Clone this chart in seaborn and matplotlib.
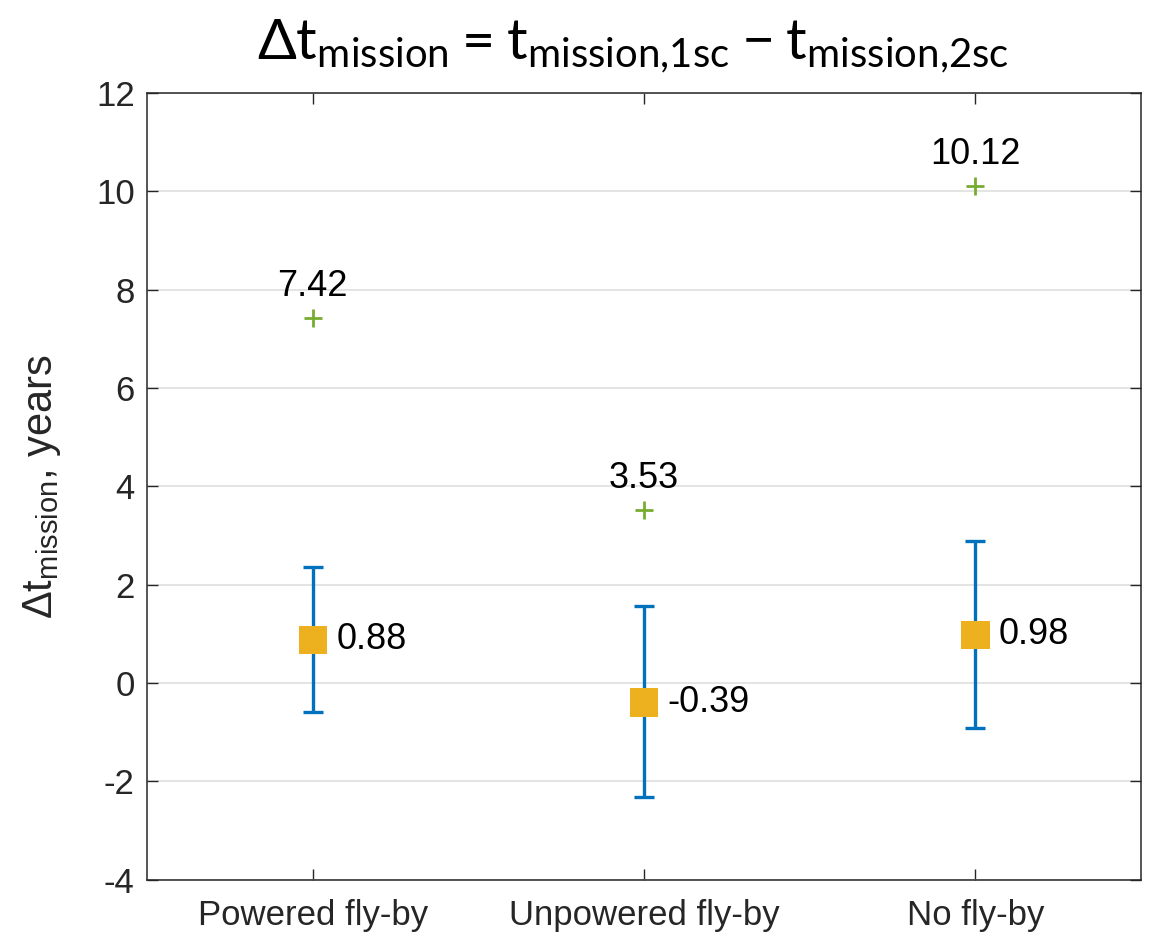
import numpy as np
import pandas as pd
import matplotlib
matplotlib.use("Agg")
import matplotlib.pyplot as plt
import seaborn as sns

# données
categories = ["Powered fly-by", "Unpowered fly-by", "No fly-by"]
moyennes = [0.88, -0.39, 0.98]
bas = [-0.58, -2.31, -0.91]
haut = [2.37, 1.57, 2.90]
extremes = [7.42, 3.53, 10.12]

sns.set_style("ticks")
plt.rcParams["font.family"] = ["Liberation Sans", "DejaVu Sans"]
plt.rcParams["mathtext.fontset"] = "custom"
plt.rcParams["mathtext.rm"] = "Lato"
plt.rcParams["mathtext.sf"] = "Liberation Sans"

df = pd.DataFrame({"cat": categories, "moy": moyennes, "bas": bas,
                   "haut": haut, "ext": extremes})
x = np.arange(len(categories))

fig = plt.figure(figsize=(11.5, 9.4), dpi=100)
ax = fig.add_axes([0.128, 0.064, 0.8642, 0.837])

ax.grid(axis="y", color="#dfdfdf", lw=1.2)
ax.set_axisbelow(True)

# barres d'erreur
ax.errorbar(x, df["moy"], yerr=[df["moy"] - df["bas"], df["haut"] - df["moy"]],
            fmt="none", ecolor="#0072BD", elinewidth=2.4, capsize=7, capthick=2.4, zorder=2)

# moyennes
sns.scatterplot(data=df, x="cat", y="moy", marker="s", s=420, color="#EDB120",
                edgecolor="none", ax=ax, zorder=3)
# valeurs extrêmes
sns.scatterplot(data=df, x="cat", y="ext", marker="+", s=180, color="#77AC30",
                linewidth=2, ax=ax, zorder=3)

for i, row in df.iterrows():
    ax.annotate(f"{row['moy']:.2f}", (i, row["moy"]), xytext=(17, 0), textcoords="offset points",
                ha="left", va="center", fontsize=26, color="black")
    ax.annotate(f"{row['ext']:.2f}", (i, row["ext"]), xytext=(0, 10), textcoords="offset points",
                ha="center", va="bottom", fontsize=26, color="black")

ax.set_xlim(-0.5, 2.5)
ax.set_ylim(-4, 12)
ax.set_yticks(np.arange(-4, 13, 2))
ax.set_yticklabels([str(v) for v in range(-4, 13, 2)])
ax.set_xticks(x)
ax.set_xticklabels(categories)
ax.tick_params(direction="in", length=8, width=1, top=True, right=True,
               labelsize=25, colors="#262626")
ax.tick_params(axis="y", pad=9)
ax.tick_params(axis="x", pad=14)
for s in ax.spines.values():
    s.set_color("#262626")
    s.set_linewidth(1.1)

ax.set_xlabel("")
ax.set_ylabel(r"$\mathsf{\Delta t_{mission}}$, years", fontsize=30, color="#262626", labelpad=24)
ax.set_title(r"$\mathrm{\Delta t_{mission} = t_{mission{,}1sc} - t_{mission{,}2sc}}$",
             fontsize=41.3, color="black", pad=24, x=0.489)

fig.savefig("out.png", dpi=100)
